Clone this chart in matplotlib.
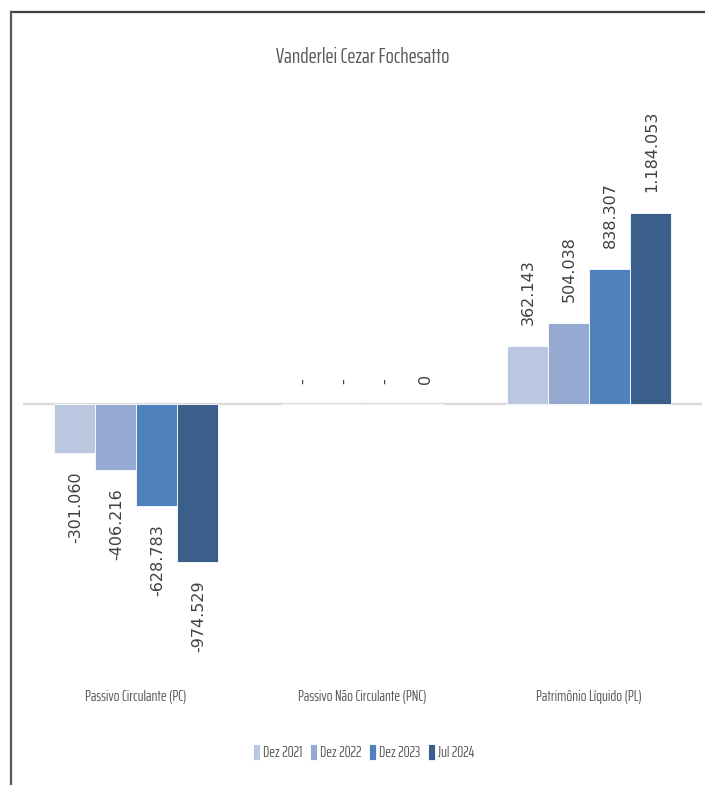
import matplotlib
matplotlib.use("Agg")
import matplotlib.pyplot as plt
from matplotlib.lines import Line2D
import numpy as np

# Data
categories = ["Passivo Circulante (PC)", "Passivo Não Circulante (PNC)", "Patrimônio Líquido (PL)"]
periods = ["Dez 2021", "Dez 2022", "Dez 2023", "Jul 2024"]
dez_2021 = [-301060, 0, 362143]
dez_2022 = [-406216, 0, 504038]
dez_2023 = [-628783, 0, 838307]
jul_2024 = [-974529, 0, 1184053]
labels_2021 = ["-301.060", "-", "362.143"]
labels_2022 = ["-406.216", "-", "504.038"]
labels_2023 = ["-628.783", "-", "838.307"]
labels_2024 = ["-974.529", "0", "1.184.053"]

series = [dez_2021, dez_2022, dez_2023, jul_2024]
series_labels = [labels_2021, labels_2022, labels_2023, labels_2024]
colors = ["#B9C7E1", "#95A9D1", "#4F81BD", "#3A5F8B"]

W, H = 705, 785
fig = plt.figure(figsize=(W / 100, H / 100), dpi=100)
fig.patch.set_facecolor("white")

narrow = ["Saira ExtraCondensed", "Sofia Sans Extra Condensed", "DejaVu Sans"]
grey = "#595959"

ax = fig.add_axes([23 / W, 1 - 680 / H, (702 - 23) / W, (680 - 90) / H])
ax.set_xlim(-0.5, 2.5)
ax.set_ylim(-1.70e6, 1.94e6)

x = np.arange(len(categories))
bw = 0.181
for i, (vals, labs, col) in enumerate(zip(series, series_labels, colors)):
    xpos = x + (i - 1.5) * bw
    ax.bar(xpos, vals, width=bw, color=col, edgecolor="white", linewidth=0.6,
           label=periods[i], zorder=2)
    for xp, v, lab in zip(xpos, vals, labs):
        if v < 0:
            ax.annotate(lab, (xp, v), xytext=(1, -13), textcoords="offset points",
                        rotation=90, ha="center", va="top", fontsize=11.5,
                        family="DejaVu Sans", color="#404040")
        else:
            ax.annotate(lab, (xp, v), xytext=(1, 15), textcoords="offset points",
                        rotation=90, ha="center", va="bottom", fontsize=11.5,
                        family="DejaVu Sans", color="#404040")

ax.axhline(0, color="#D9D9D9", linewidth=1.6, zorder=1)

for s in ax.spines.values():
    s.set_visible(False)
ax.set_yticks([])
ax.set_xticks(x)
ax.set_xticklabels(categories, family=narrow, fontsize=11, color=grey)
ax.tick_params(axis="x", length=0, pad=7)

fig.text(362.5 / W, 1 - 57 / H, "Vanderlei Cezar Fochesatto", family=narrow,
         fontsize=15.5, color=grey, ha="center", va="center")

leg = fig.legend(loc="center", bbox_to_anchor=(364 / W, 1 - 752 / H), ncol=4,
                 frameon=False, prop={"family": narrow, "size": 11},
                 handlelength=0.45, handleheight=1.25, handletextpad=0.2,
                 columnspacing=0.5, labelcolor=grey)

# frame lines along the top and left edges
fig.add_artist(Line2D([11 / W, 1], [1 - 11.5 / H, 1 - 11.5 / H], color="#404040", linewidth=1.6))
fig.add_artist(Line2D([11 / W, 11 / W], [0, 1 - 11.5 / H], color="#595959", linewidth=1.6))

fig.savefig("out.png", dpi=100, facecolor="white")
